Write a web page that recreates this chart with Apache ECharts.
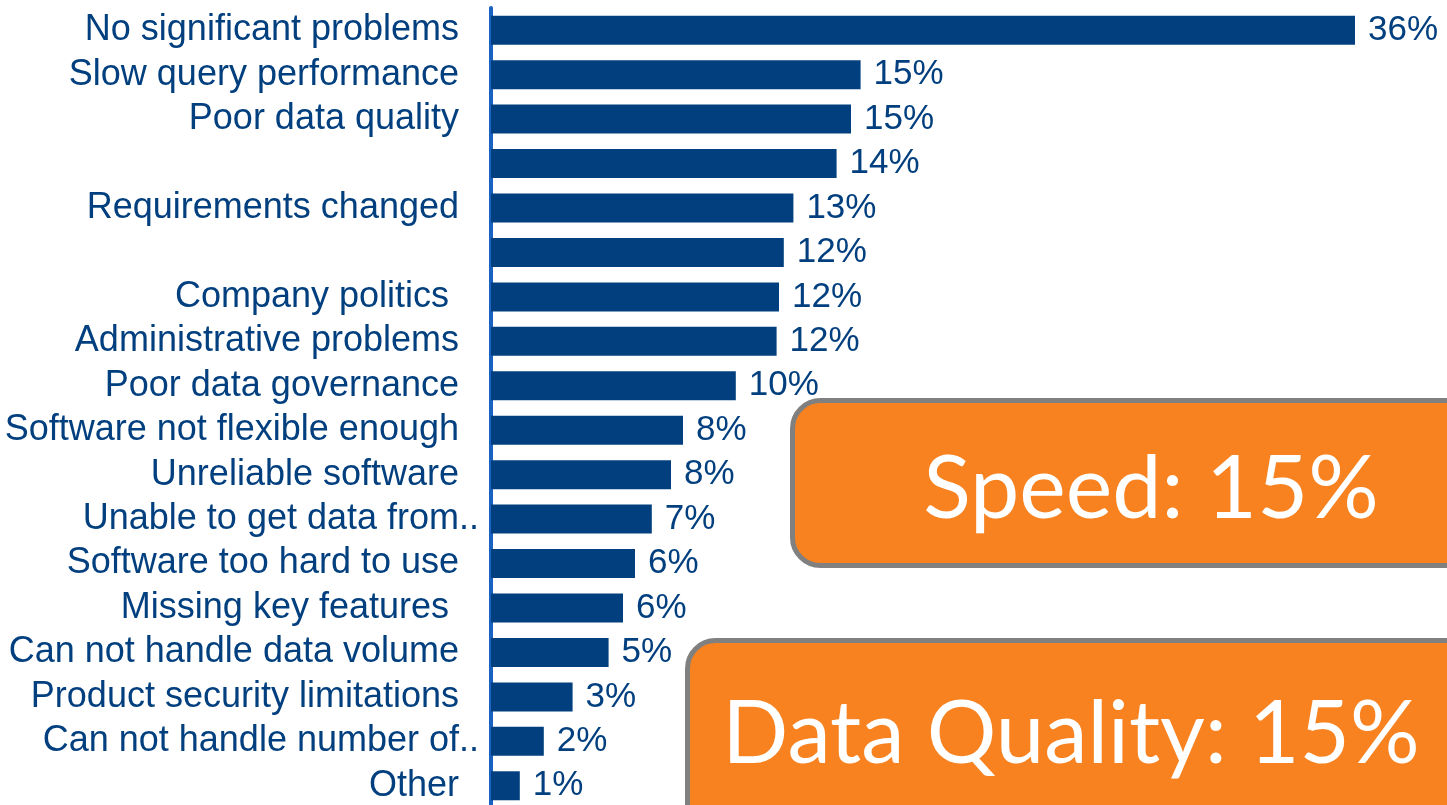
<!DOCTYPE html>
<html>
<head>
<meta charset="utf-8">
<script src="https://cdn.jsdelivr.net/npm/echarts@6/dist/echarts.min.js"></script>
<style>
  html, body { margin: 0; padding: 0; background: #fff; }
  #chart { width: 1447px; height: 805px; }
</style>
</head>
<body>
<div id="chart"></div>
<script>
// categories (blank entries are rows with no label in the source)
var categories = [
  'No significant problems  ', 'Slow query performance  ', 'Poor data quality  ', '',
  'Requirements changed  ', '', 'Company politics   ', 'Administrative problems  ',
  'Poor data governance  ', 'Software not flexible enough  ', 'Unreliable software  ',
  'Unable to get data from..', 'Software too hard to use  ', 'Missing key features   ',
  'Can not handle data volume  ', 'Product security limitations  ', 'Can not handle number of..',
  'Other  '
]
// bar lengths (percent)
var values = [36, 15.4, 15.0, 14.4, 12.6, 12.2, 12.0, 11.9, 10.2, 8.0, 7.5, 6.7, 6.0, 5.5, 4.9, 3.4, 2.2, 1.2]
// printed labels
var valueLabels = ['36%', '15%', '15%', '14%', '13%', '12%', '12%', '12%', '10%', '8%', '8%', '7%', '6%', '6%', '5%', '3%', '2%', '1%']
var callouts = ['Speed: 15%', 'Data Quality: 15%']

var myChart = echarts.init(document.getElementById('chart'))
var navy = '#023F7E'
var option = {
  animation: false,
  grid: {
    left: 491, top: 8, width: 864, height: 800,
    containLabel: false, outerBoundsMode: 'none'
  },
  xAxis: {
    type: 'value', min: 0, max: 36, show: false
  },
  yAxis: {
    type: 'category',
    inverse: true,
    data: categories,
    axisTick: { show: false },
    axisLine: { show: true, lineStyle: { color: '#1A62C2', width: 4 } },
    axisLabel: {
      interval: 0,
      color: navy,
      fontFamily: 'Liberation Sans, Arial, sans-serif',
      fontSize: 36,
      margin: 12
    }
  },
  series: [{
    type: 'bar',
    data: values,
    barWidth: 29,
    itemStyle: { color: navy },
    label: {
      show: true,
      position: 'right',
      distance: 13,
      color: navy,
      fontFamily: 'Liberation Sans, Arial, sans-serif',
      fontSize: 35,
      formatter: function (p) { return valueLabels[p.dataIndex] }
    }
  }],
  graphic: [
    {
      type: 'rect', z: 100,
      shape: { x: 792.5, y: 400.5, width: 720, height: 165, r: 28 },
      style: { fill: '#F7821F', stroke: '#808080', lineWidth: 5 }
    },
    {
      type: 'text', z: 101,
      style: {
        text: callouts[0], x: 1151, y: 490, align: 'center', verticalAlign: 'middle',
        fill: '#fff', font: '88px Lato, sans-serif'
      }
    },
    {
      type: 'rect', z: 100,
      shape: { x: 687.5, y: 640.5, width: 820, height: 220, r: 28 },
      style: { fill: '#F7821F', stroke: '#808080', lineWidth: 5 }
    },
    {
      type: 'text', z: 101,
      style: {
        text: callouts[1], x: 1071, y: 735, align: 'center', verticalAlign: 'middle',
        fill: '#fff', font: '87px Lato, sans-serif'
      }
    }
  ]
}
myChart.setOption(option)
window.addEventListener('resize', function () {
  myChart.resize()
})
</script>
</body>
</html>
